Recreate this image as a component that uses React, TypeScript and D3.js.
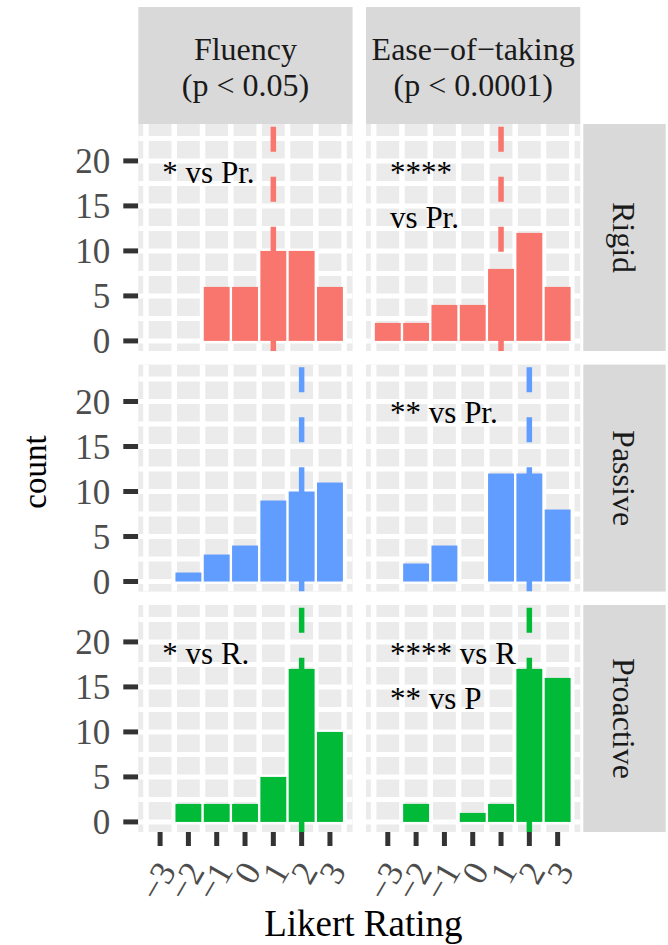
import React, { useRef, useEffect } from "react";
import * as d3 from "d3";

// Likert ratings (bins) and facet labels
const ratings = [-3, -2, -1, 0, 1, 2, 3];
const xTickLabels = ["−3", "−2", "−1", "0", "1", "2", "3"];
const yTicks = [0, 5, 10, 15, 20];
const measures = ["Fluency", "Ease−of−taking"];
const pLabels = ["(p < 0.05)", "(p < 0.0001)"];
const groups = ["Rigid", "Passive", "Proactive"];
const groupColors = ["#F8766D", "#619CFF", "#00BA38"];

// counts per rating, -3..3
const fluencyRigid = [0, 0, 6, 6, 10, 10, 6];
const fluencyPassive = [0, 1, 3, 4, 9, 10, 11];
const fluencyProactive = [0, 2, 2, 2, 5, 17, 10];
const easeRigid = [2, 2, 4, 4, 8, 12, 6];
const easePassive = [0, 2, 4, 0, 12, 12, 8];
const easeProactive = [0, 2, 0, 1, 2, 17, 16];

// median lines
const fluencyMedians = [1, 2, 2];
const easeMedians = [1, 2, 2];

// significance notes (one entry per line)
const fluencyNotes = [["* vs Pr."], [], ["* vs R."]];
const easeNotes = [["****", "vs Pr."], ["** vs Pr."], ["**** vs R", "** vs P"]];
const noteLevels = [17.6, 12.6];

const counts = [
  [fluencyRigid, easeRigid],
  [fluencyPassive, easePassive],
  [fluencyProactive, easeProactive],
];
const medians = [fluencyMedians, easeMedians];
const notes = [fluencyNotes, easeNotes];

const App = () => {
  const svgRef = useRef<SVGSVGElement>(null);

  useEffect(() => {
    if (!svgRef.current) return;
    const svg = d3.select(svgRef.current);
    svg.selectAll("*").remove();

    const font = "'Liberation Serif', 'Times New Roman', serif";
    const colX = [138.3, 366];
    const colW = 214.3;
    const rowY = [124, 364.6, 605];
    const rowH = 227;
    const stripTop = 7;
    const stripRightX = 583.3;
    const stripRightW = 82.4;

    const yDomain: [number, number] = [-1.12, 24.1];
    const xDomain: [number, number] = [-3.77, 3.8];

    // top strips
    measures.forEach((m, c) => {
      const g = svg.append("g");
      g.append("rect")
        .attr("x", colX[c])
        .attr("y", stripTop)
        .attr("width", colW)
        .attr("height", rowY[0] - stripTop)
        .attr("fill", "#D9D9D9");
      g.append("text")
        .attr("x", colX[c] + colW / 2)
        .attr("y", 60)
        .attr("text-anchor", "middle")
        .style("font-family", font)
        .style("font-size", "32px")
        .style("fill", "#1A1A1A")
        .text(m);
      g.append("text")
        .attr("x", colX[c] + colW / 2)
        .attr("y", 96)
        .attr("text-anchor", "middle")
        .style("font-family", font)
        .style("font-size", "32px")
        .style("fill", "#1A1A1A")
        .text(pLabels[c]);
    });

    groups.forEach((grp, r) => {
      const y = d3.scaleLinear().domain(yDomain).range([rowY[r] + rowH, rowY[r]]);

      // right strip
      svg.append("rect")
        .attr("x", stripRightX)
        .attr("y", rowY[r])
        .attr("width", stripRightW)
        .attr("height", rowH)
        .attr("fill", "#D9D9D9");
      svg.append("text")
        .attr("transform", `translate(${stripRightX + 30},${rowY[r] + rowH / 2}) rotate(90)`)
        .attr("text-anchor", "middle")
        .style("font-family", font)
        .style("font-size", "32px")
        .style("fill", "#1A1A1A")
        .text(grp);

      // y axis ticks + labels (left column only)
      yTicks.forEach((t) => {
        svg.append("line")
          .attr("x1", colX[0] - 15)
          .attr("x2", colX[0])
          .attr("y1", y(t))
          .attr("y2", y(t))
          .attr("stroke", "#333333")
          .attr("stroke-width", 5);
        svg.append("text")
          .attr("x", colX[0] - 28)
          .attr("y", y(t))
          .attr("dy", "0.35em")
          .attr("text-anchor", "end")
          .style("font-family", font)
          .style("font-size", "35px")
          .style("fill", "#4D4D4D")
          .text(t);
      });

      measures.forEach((_, c) => {
        const x = d3.scaleLinear().domain(xDomain).range([colX[c], colX[c] + colW]);
        const panel = svg.append("g");
        const x0 = colX[c];
        const y0 = rowY[r];

        panel.append("rect")
          .attr("x", x0)
          .attr("y", y0)
          .attr("width", colW)
          .attr("height", rowH)
          .attr("fill", "#EBEBEB");

        const clipId = `clip-${r}-${c}`;
        panel.append("clipPath")
          .attr("id", clipId)
          .append("rect")
          .attr("x", x0)
          .attr("y", y0)
          .attr("width", colW)
          .attr("height", rowH);
        const inner = panel.append("g").attr("clip-path", `url(#${clipId})`);

        // grid: vertical at bin edges, horizontal every 2.5
        d3.range(-3.5, 4, 1).forEach((v) => {
          inner.append("line")
            .attr("x1", x(v))
            .attr("x2", x(v))
            .attr("y1", y0)
            .attr("y2", y0 + rowH)
            .attr("stroke", "white")
            .attr("stroke-width", 5.5);
        });
        d3.range(0, 25, 2.5).forEach((v) => {
          inner.append("line")
            .attr("x1", x0)
            .attr("x2", x0 + colW)
            .attr("y1", y(v))
            .attr("y2", y(v))
            .attr("stroke", "white")
            .attr("stroke-width", 5);
        });

        // histogram bars
        inner.selectAll(".bar")
          .data(ratings.map((k, i) => ({ k, n: counts[r][c][i] })).filter((d) => d.n > 0))
          .enter()
          .append("rect")
          .attr("x", (d) => x(d.k - 0.5) + 1.2)
          .attr("width", (d) => x(d.k + 0.5) - x(d.k - 0.5) - 2.4)
          .attr("y", (d) => y(d.n))
          .attr("height", (d) => y(0) - y(d.n))
          .attr("fill", groupColors[r]);

        // median dashed line
        inner.append("line")
          .attr("x1", x(medians[c][r]))
          .attr("x2", x(medians[c][r]))
          .attr("y1", y0 + 2.7)
          .attr("y2", y0 + rowH)
          .attr("stroke", groupColors[r])
          .attr("stroke-width", 5.5)
          .attr("stroke-dasharray", "25,25");

        // significance notes
        notes[c][r].forEach((s, i) => {
          panel.append("text")
            .attr("x", x(-2.92))
            .attr("y", y(noteLevels[i]))
            .style("font-family", font)
            .style("font-size", "31px")
            .style("fill", "black")
            .text(s);
        });

        // x axis ticks + labels on bottom row
        if (r === groups.length - 1) {
          ratings.forEach((k, i) => {
            svg.append("line")
              .attr("x1", x(k))
              .attr("x2", x(k))
              .attr("y1", y0 + rowH)
              .attr("y2", y0 + rowH + 14)
              .attr("stroke", "#333333")
              .attr("stroke-width", 5);
            svg.append("text")
              .attr("transform", `translate(${x(k) + 17},${871}) rotate(-60)`)
              .attr("text-anchor", "end")
              .style("font-family", font)
              .style("font-size", "35px")
              .style("fill", "#4D4D4D")
              .text(xTickLabels[i]);
          });
        }
      });
    });

    // axis titles
    svg.append("text")
      .attr("x", (colX[0] + colX[1] + colW) / 2 + 4)
      .attr("y", 936)
      .attr("text-anchor", "middle")
      .style("font-family", font)
      .style("font-size", "37px")
      .style("fill", "black")
      .text("Likert Rating");

    svg.append("text")
      .attr("transform", `translate(46,${(rowY[0] + rowY[2] + rowH) / 2 - 6}) rotate(-90)`)
      .attr("text-anchor", "middle")
      .style("font-family", font)
      .style("font-size", "33px")
      .style("fill", "black")
      .text("count");
  }, []);

  return (
    <svg
      ref={svgRef}
      width={668}
      height={945}
      style={{ position: "absolute", left: 0, top: 0, background: "white" }}
    ></svg>
  );
};

export default App;
